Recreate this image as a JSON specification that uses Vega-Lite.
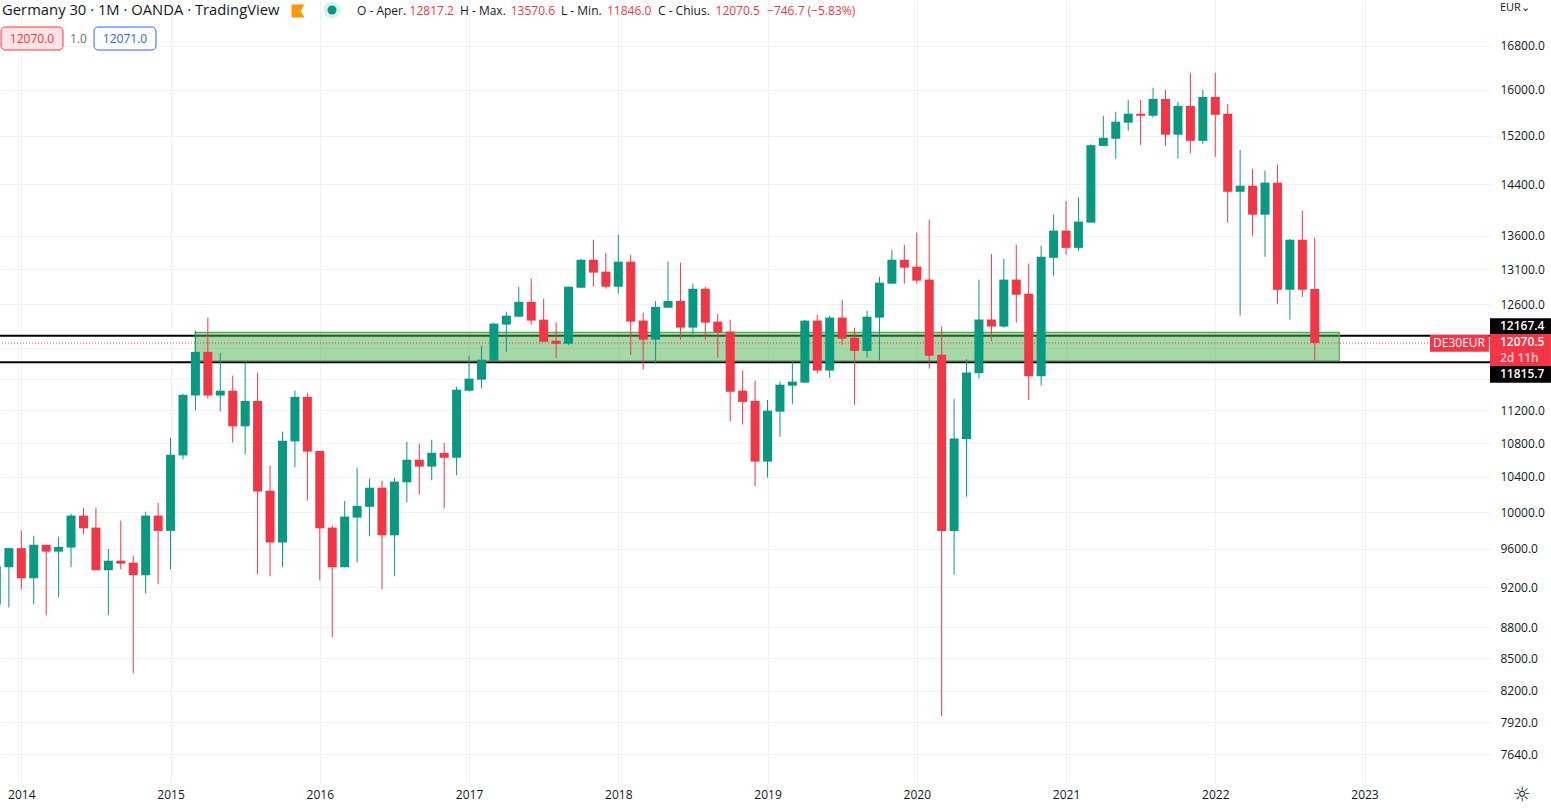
{
  "$schema": "https://vega.github.io/schema/vega-lite/v6.json",
  "width": 1490,
  "height": 783,
  "padding": {"left": 0, "top": 0, "right": 61, "bottom": 25},
  "autosize": "none",
  "background": "white",
  "config": {
    "view": {"stroke": null},
    "text": {"font": "Open Sans"},
    "axis": {"labelFont": "Open Sans", "labelFontSize": 12, "labelColor": "#131722", "domain": false, "ticks": false, "gridColor": "#f0f1f3", "gridWidth": 1, "title": null, "labelOverlap": false, "labelBound": false, "labelFlush": false}
  },
  "datasets": {
    "candles": [
      {"bar":-1.69,"open":9417,"high":9417,"low":9023,"close":9417},
      {"bar":-1,"open":9407,"high":9609,"low":8996,"close":9609},
      {"bar":0,"open":9609,"high":9798,"low":9179,"close":9293},
      {"bar":1,"open":9293,"high":9743,"low":9026,"close":9645},
      {"bar":2,"open":9645,"high":9645,"low":8918,"close":9572},
      {"bar":3,"open":9572,"high":9732,"low":9096,"close":9623},
      {"bar":4,"open":9615,"high":9985,"low":9407,"close":9963},
      {"bar":5,"open":9963,"high":10050,"low":9756,"close":9823},
      {"bar":6,"open":9831,"high":10050,"low":9376,"close":9376},
      {"bar":7,"open":9376,"high":9601,"low":8918,"close":9476},
      {"bar":8,"open":9476,"high":9908,"low":9386,"close":9445},
      {"bar":9,"open":9455,"high":9528,"low":8361,"close":9324},
      {"bar":10,"open":9324,"high":10006,"low":9137,"close":9963},
      {"bar":11,"open":9963,"high":10105,"low":9231,"close":9795},
      {"bar":12,"open":9795,"high":10865,"low":9386,"close":10660},
      {"bar":13,"open":10652,"high":11408,"low":10605,"close":11395},
      {"bar":14,"open":11386,"high":12238,"low":11199,"close":11952},
      {"bar":15,"open":11952,"high":12416,"low":11347,"close":11386},
      {"bar":16,"open":11386,"high":11939,"low":11187,"close":11447},
      {"bar":17,"open":11447,"high":11641,"low":10807,"close":11003},
      {"bar":18,"open":11003,"high":11826,"low":10663,"close":11318},
      {"bar":19,"open":11318,"high":11680,"low":9334,"close":10234},
      {"bar":20,"open":10242,"high":10532,"low":9313,"close":9670},
      {"bar":21,"open":9670,"high":10938,"low":9407,"close":10828},
      {"bar":22,"open":10820,"high":11447,"low":10513,"close":11369},
      {"bar":23,"open":11369,"high":11421,"low":10130,"close":10698},
      {"bar":24,"open":10706,"high":10706,"low":9270,"close":9823},
      {"bar":25,"open":9831,"high":9853,"low":8702,"close":9407},
      {"bar":26,"open":9407,"high":10127,"low":9407,"close":9952},
      {"bar":27,"open":9941,"high":10509,"low":9458,"close":10072},
      {"bar":28,"open":10061,"high":10382,"low":9736,"close":10277},
      {"bar":29,"open":10277,"high":10358,"low":9179,"close":9747},
      {"bar":30,"open":9747,"high":10393,"low":9313,"close":10347},
      {"bar":31,"open":10339,"high":10816,"low":10108,"close":10602},
      {"bar":32,"open":10602,"high":10791,"low":10199,"close":10521},
      {"bar":33,"open":10521,"high":10840,"low":10362,"close":10683},
      {"bar":34,"open":10683,"high":10804,"low":10043,"close":10625},
      {"bar":35,"open":10625,"high":11498,"low":10420,"close":11460},
      {"bar":36,"open":11447,"high":11900,"low":11438,"close":11602},
      {"bar":37,"open":11589,"high":12033,"low":11477,"close":11848},
      {"bar":38,"open":11835,"high":12347,"low":11835,"close":12334},
      {"bar":39,"open":12320,"high":12498,"low":11952,"close":12443},
      {"bar":40,"open":12429,"high":12850,"low":12429,"close":12635},
      {"bar":41,"open":12635,"high":12966,"low":12320,"close":12375},
      {"bar":42,"open":12388,"high":12676,"low":12087,"close":12087},
      {"bar":43,"open":12101,"high":12347,"low":11874,"close":12060},
      {"bar":44,"open":12060,"high":12850,"low":12046,"close":12850},
      {"bar":45,"open":12836,"high":13256,"low":12836,"close":13241},
      {"bar":46,"open":13241,"high":13539,"low":12850,"close":13053},
      {"bar":47,"open":13067,"high":13343,"low":12821,"close":12850},
      {"bar":48,"open":12850,"high":13616,"low":12749,"close":13212},
      {"bar":49,"open":13212,"high":13314,"low":11913,"close":12361},
      {"bar":50,"open":12375,"high":12484,"low":11719,"close":12115},
      {"bar":51,"open":12115,"high":12648,"low":11797,"close":12566},
      {"bar":52,"open":12553,"high":13212,"low":12553,"close":12648},
      {"bar":53,"open":12648,"high":13198,"low":12115,"close":12279},
      {"bar":54,"open":12279,"high":12894,"low":12142,"close":12821},
      {"bar":55,"open":12821,"high":12850,"low":12115,"close":12347},
      {"bar":56,"open":12361,"high":12470,"low":11874,"close":12211},
      {"bar":57,"open":12224,"high":12388,"low":11061,"close":11434},
      {"bar":58,"open":11447,"high":11706,"low":11024,"close":11306},
      {"bar":59,"open":11318,"high":11576,"low":10289,"close":10579},
      {"bar":60,"open":10579,"high":11330,"low":10393,"close":11195},
      {"bar":61,"open":11183,"high":11563,"low":10877,"close":11524},
      {"bar":62,"open":11511,"high":11835,"low":11281,"close":11563},
      {"bar":63,"open":11550,"high":12388,"low":11550,"close":12375},
      {"bar":64,"open":12375,"high":12457,"low":11667,"close":11706},
      {"bar":65,"open":11706,"high":12443,"low":11615,"close":12416},
      {"bar":66,"open":12416,"high":12662,"low":12046,"close":12128},
      {"bar":67,"open":12142,"high":12279,"low":11269,"close":11965},
      {"bar":68,"open":11965,"high":12511,"low":11874,"close":12429},
      {"bar":69,"open":12416,"high":12995,"low":11835,"close":12908},
      {"bar":70,"open":12894,"high":13386,"low":12894,"close":13241},
      {"bar":71,"open":13241,"high":13462,"low":12894,"close":13125},
      {"bar":72,"open":13140,"high":13646,"low":12894,"close":12937},
      {"bar":73,"open":12952,"high":13845,"low":11731,"close":11900},
      {"bar":74,"open":11913,"high":12293,"low":7973,"close":9795},
      {"bar":75,"open":9795,"high":11344,"low":9329,"close":10855},
      {"bar":76,"open":10848,"high":11852,"low":10174,"close":11681},
      {"bar":77,"open":11672,"high":12952,"low":11606,"close":12390},
      {"bar":78,"open":12390,"high":13328,"low":12094,"close":12293},
      {"bar":79,"open":12293,"high":13256,"low":12279,"close":12952},
      {"bar":80,"open":12952,"high":13464,"low":12349,"close":12736},
      {"bar":81,"open":12750,"high":13186,"low":11330,"close":11633},
      {"bar":82,"open":11633,"high":13449,"low":11515,"close":13285},
      {"bar":83,"open":13270,"high":13923,"low":13009,"close":13677},
      {"bar":84,"open":13677,"high":14136,"low":13314,"close":13417},
      {"bar":85,"open":13417,"high":14197,"low":13372,"close":13814},
      {"bar":86,"open":13799,"high":15056,"low":13799,"close":15040},
      {"bar":87,"open":15027,"high":15540,"low":15027,"close":15164},
      {"bar":88,"open":15147,"high":15609,"low":14813,"close":15438},
      {"bar":89,"open":15421,"high":15814,"low":15284,"close":15575},
      {"bar":90,"open":15575,"high":15814,"low":15044,"close":15540},
      {"bar":91,"open":15540,"high":16031,"low":15506,"close":15832},
      {"bar":92,"open":15832,"high":15995,"low":15027,"close":15216},
      {"bar":93,"open":15216,"high":15780,"low":14813,"close":15711},
      {"bar":94,"open":15711,"high":16302,"low":14910,"close":15113},
      {"bar":95,"open":15113,"high":15995,"low":15061,"close":15868},
      {"bar":96,"open":15868,"high":16302,"low":14846,"close":15557},
      {"bar":97,"open":15575,"high":15746,"low":13799,"close":14280},
      {"bar":98,"open":14280,"high":14959,"low":12443,"close":14377},
      {"bar":99,"open":14377,"high":14652,"low":13600,"close":13921},
      {"bar":100,"open":13921,"high":14620,"low":13285,"close":14426},
      {"bar":101,"open":14426,"high":14717,"low":12607,"close":12807},
      {"bar":102,"open":12807,"high":13554,"low":12388,"close":13539},
      {"bar":103,"open":13539,"high":13983,"low":12705,"close":12807},
      {"bar":104,"open":12817.2,"high":13570.6,"low":11846,"close":12070.5}
    ]
  },
  "encoding": {
    "x": {
      "field": "bar",
      "type": "quantitative",
      "title": null,
      "scale": {"domain": [-1.7126, 118.09], "zero": false, "nice": false, "padding": 0},
      "axis": {"values": [0,12,24,36,48,60,72,84,96,108], "labelExpr": "'' + (2014 + datum.value / 12)", "labelPadding": 6}
    },
    "y": {
      "field": "price",
      "type": "quantitative",
      "title": null,
      "scale": {"type": "log", "domain": [7401, 17674], "nice": false, "zero": false},
      "axis": {
        "orient": "right",
        "values": [16800,16000,15200,14400,13600,13100,12600,12000,11600,11200,10800,10400,10000,9600,9200,8800,8500,8200,7920,7640],
        "labelExpr": "datum.value == 12000 || datum.value == 11600 ? '' : format(datum.value, '.1f')",
        "labelPadding": 10
      }
    }
  },
  "layer": [
    {
      "data": {"values": [
        {"bar": -1.7126, "bar2": 118.09, "price": 12167.4},
        {"bar": -1.7126, "bar2": 118.09, "price": 11815.7}
      ]},
      "mark": {"type": "rule", "color": "black", "strokeWidth": 2},
      "encoding": {"x2": {"field": "bar2"}}
    },
    {
      "data": {"values": [{"bar": 13.99, "bar2": 105.97, "price": 12214, "price2": 11835}]},
      "mark": {"type": "rect", "fill": "#4caf50", "fillOpacity": 0.5, "stroke": "#4caf50", "strokeWidth": 1.2},
      "encoding": {"x2": {"field": "bar2"}, "y2": {"field": "price2"}}
    },
    {
      "data": {"values": [{"bar": -1.55, "bar2": 113.26, "price": 12070.5}]},
      "mark": {"type": "rule", "color": "#f23645", "strokeWidth": 1, "strokeDash": [1, 2]},
      "encoding": {"x2": {"field": "bar2"}}
    },
    {
      "data": {"name": "candles"},
      "mark": {"type": "rule", "strokeWidth": 1},
      "encoding": {
        "y": {"field": "low", "type": "quantitative", "title": null, "scale": {"type": "log", "domain": [7401, 17674], "nice": false, "zero": false}},
        "y2": {"field": "high"},
        "color": {"condition": {"test": "datum.open > datum.close", "value": "#f23645"}, "value": "#089981"}
      }
    },
    {
      "data": {"name": "candles"},
      "mark": {"type": "bar", "size": 9},
      "encoding": {
        "y": {"field": "open", "type": "quantitative", "title": null, "scale": {"type": "log", "domain": [7401, 17674], "nice": false, "zero": false}},
        "y2": {"field": "close"},
        "color": {"condition": {"test": "datum.open > datum.close", "value": "#f23645"}, "value": "#089981"}
      }
    },
    {
      "data": {"values": [
        {"bar": 118.09, "bar2": 122.99, "price": 12408, "price2": 12192},
        {"bar": 118.09, "bar2": 122.99, "price": 11766, "price2": 11549}
      ]},
      "mark": {"type": "rect", "fill": "black", "clip": false},
      "encoding": {"x2": {"field": "bar2"}, "y2": {"field": "price2"}}
    },
    {
      "data": {"values": [
        {"bar": 118.09, "bar2": 122.99, "price": 12192, "price2": 11766},
        {"bar": 113.26, "bar2": 118.0, "price": 12178, "price2": 11955}
      ]},
      "mark": {"type": "rect", "fill": "#f23645", "clip": false},
      "encoding": {"x2": {"field": "bar2"}, "y2": {"field": "price2"}}
    },
    {
      "data": {"values": [{"bar": -1.63, "bar2": 3.35, "price": 17151, "price2": 16718}]},
      "mark": {"type": "rect", "fill": "#fde4e6", "stroke": "#f23645", "strokeWidth": 1, "cornerRadius": 4},
      "encoding": {"x2": {"field": "bar2"}, "y2": {"field": "price2"}}
    },
    {
      "data": {"values": [{"bar": 5.85, "bar2": 10.83, "price": 17151, "price2": 16718}]},
      "mark": {"type": "rect", "fill": "white", "stroke": "#2962ff", "strokeWidth": 1, "cornerRadius": 4},
      "encoding": {"x2": {"field": "bar2"}, "y2": {"field": "price2"}}
    },
    {
      "data": {"values": [{"bar": 22.25, "price": 17459}]},
      "mark": {"type": "point", "filled": true, "color": "#ff9800", "opacity": 1, "size": 169, "shape": "M-1,-1L1,-1L0.4,0L1,1L-1,1Z"}
    },
    {
      "data": {"values": [{"bar": 24.98, "price": 17478}]},
      "mark": {"type": "circle", "color": "#089981", "opacity": 0.15, "size": 289}
    },
    {
      "data": {"values": [{"bar": 24.98, "price": 17478}]},
      "mark": {"type": "circle", "color": "#089981", "opacity": 1, "size": 81}
    },
    {
      "data": {"values": [{"bar": -1.55, "price": 17459, "label": "Germany 30 · 1M · OANDA · TradingView"}]},
      "mark": {"type": "text", "align": "left", "baseline": "middle", "fontSize": 14.8, "color": "#131722"},
      "encoding": {"text": {"field": "label"}}
    },
    {
      "data": {"values": [{"bar": 118.89, "price": 17511, "label": "EUR⌄"}]},
      "mark": {"type": "text", "align": "left", "baseline": "middle", "fontSize": 11, "color": "#131722"},
      "encoding": {"text": {"field": "label"}}
    },
    {
      "data": {"values": [
        {"bar": 26.99, "price": 17459, "label": "O - Aper.", "kind": "name"},
        {"bar": 31.22, "price": 17459, "label": "12817.2", "kind": "value"},
        {"bar": 35.27, "price": 17459, "label": "H - Max.", "kind": "name"},
        {"bar": 39.35, "price": 17459, "label": "13570.6", "kind": "value"},
        {"bar": 43.39, "price": 17459, "label": "L - Min.", "kind": "name"},
        {"bar": 47.09, "price": 17459, "label": "11846.0", "kind": "value"},
        {"bar": 51.19, "price": 17459, "label": "C - Chius.", "kind": "name"},
        {"bar": 55.82, "price": 17459, "label": "12070.5", "kind": "value"},
        {"bar": 59.96, "price": 17459, "label": "−746.7 (−5.83%)", "kind": "value"}
      ]},
      "mark": {"type": "text", "align": "left", "baseline": "middle", "fontSize": 12},
      "encoding": {
        "text": {"field": "label"},
        "color": {"field": "kind", "scale": {"domain": ["name", "value", "gray", "blue", "white", "faint"], "range": ["#131722", "#f23645", "#6a6d78", "#2962ff", "#ffffff", "#fbc4c9"]}, "legend": null}
      }
    },
    {
      "data": {"values": [
        {"bar": 0.86, "price": 16933, "label": "12070.0", "kind": "value"},
        {"bar": 4.6, "price": 16933, "label": "1.0", "kind": "gray"},
        {"bar": 8.34, "price": 16933, "label": "12071.0", "kind": "blue"},
        {"bar": 115.6, "price": 12065, "label": "DE30EUR", "kind": "white"}
      ]},
      "mark": {"type": "text", "align": "center", "baseline": "middle", "fontSize": 12},
      "encoding": {
        "text": {"field": "label"},
        "color": {"field": "kind", "scale": {"domain": ["name", "value", "gray", "blue", "white", "faint"], "range": ["#131722", "#f23645", "#6a6d78", "#2962ff", "#ffffff", "#fbc4c9"]}, "legend": null}
      }
    },
    {
      "data": {"values": [
        {"bar": 118.89, "price": 12306, "label": "12167.4", "kind": "white"},
        {"bar": 118.89, "price": 12085, "label": "12070.5", "kind": "white"},
        {"bar": 118.89, "price": 11874, "label": "2d 11h", "kind": "faint"},
        {"bar": 118.89, "price": 11667, "label": "11815.7", "kind": "white"}
      ]},
      "mark": {"type": "text", "align": "left", "baseline": "middle", "fontSize": 12, "fontWeight": 600},
      "encoding": {
        "text": {"field": "label"},
        "color": {"field": "kind", "scale": {"domain": ["name", "value", "gray", "blue", "white", "faint"], "range": ["#131722", "#f23645", "#6a6d78", "#2962ff", "#ffffff", "#fbc4c9"]}, "legend": null}
      }
    },
    {
      "data": {"values": [{"bar": 120.66, "price": 7303, "label": "☼"}]},
      "mark": {"type": "text", "align": "center", "baseline": "middle", "fontSize": 20, "font": "DejaVu Sans", "color": "#131722"},
      "encoding": {"text": {"field": "label"}}
    }
  ]
}
